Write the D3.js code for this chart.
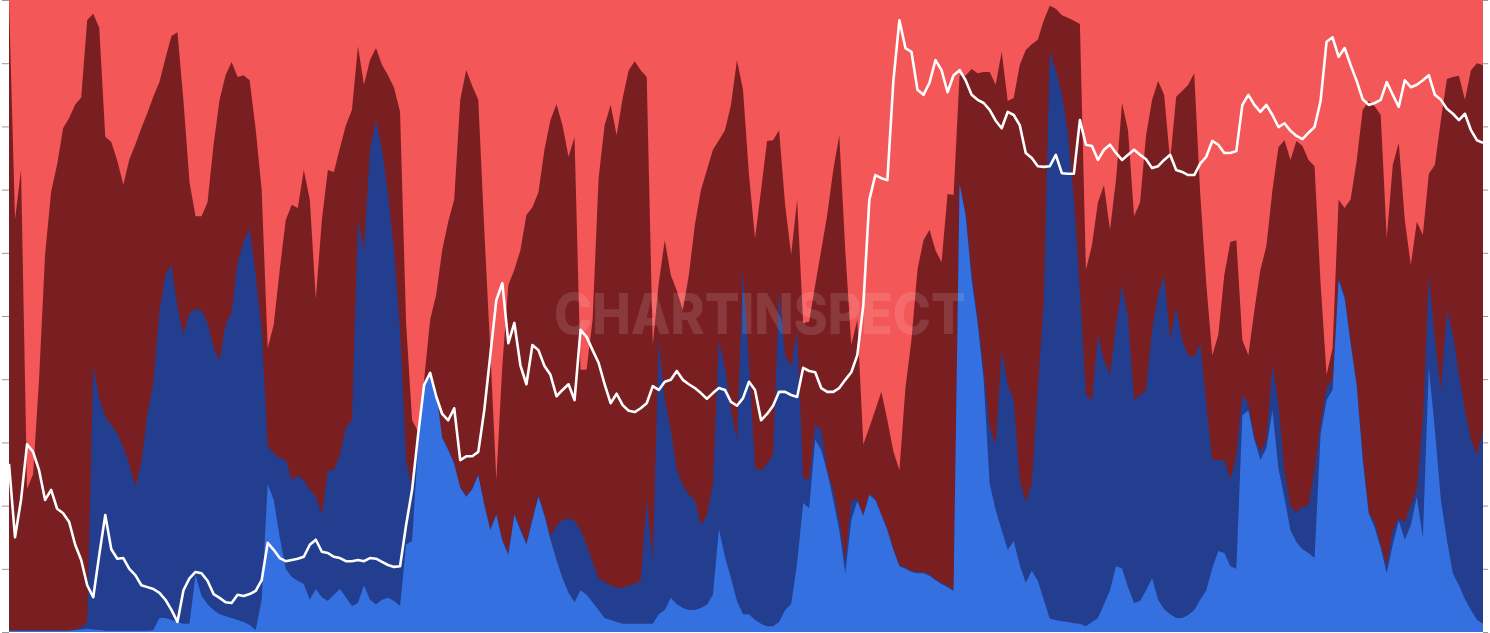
<!DOCTYPE html>
<html><head><meta charset="utf-8">
<script src="https://cdn.jsdelivr.net/npm/d3@7"></script>
<style>html,body{margin:0;padding:0;background:#fff;overflow:hidden}svg{display:block}</style>
</head><body><svg id="c" width="1490" height="633"></svg>
<script>
// Share of each cohort (percent), sampled left to right
const lightBlue = [0.2,0.2,0.2,0.2,0.2,0.2,0.2,0.2,0.2,0.2,
0.2,0.3,0.4,0.5,0.4,0.3,0.2,0.2,0.2,0.2,
0.2,0.2,0.2,0.2,0.3,2.2,2.2,1.9,1.6,1.3,
1.3,9.0,5.7,4.4,3.5,2.8,2.5,2.2,1.9,1.6,
1.1,0.3,5.1,23.4,20.9,15.0,10.0,8.7,8.1,7.6,
5.1,6.8,5.5,4.9,5.9,6.8,5.5,4.1,4.6,7.4,
5.1,4.4,5.1,5.4,4.9,4.1,13.8,14.4,29.6,38.9,
40.5,38.0,30.7,28.8,26.6,22.8,21.4,22.6,24.8,20.1,
16.1,18.5,14.4,12.2,18.5,16.1,13.8,17.7,21.4,18.4,
14.6,11.4,8.5,6.2,4.7,6.6,5.9,4.7,3.5,2.2,
1.9,1.6,1.3,1.3,1.3,1.3,1.3,1.3,2.8,3.5,
5.4,4.4,3.8,3.5,3.5,3.8,4.3,5.9,16.3,11.9,
8.5,4.9,2.8,2.8,1.9,1.3,0.9,0.9,1.6,3.5,
4.4,10.9,20.4,19.6,30.4,28.8,25.3,20.9,16.1,9.3,
17.7,20.7,18.4,21.7,20.9,18.5,16.1,13.0,10.4,10.0,
9.5,9.3,9.3,8.9,8.2,7.6,7.1,6.5,70.9,66.0,
55.7,48.9,39.9,23.4,19.3,16.1,13.0,14.4,10.6,7.8,
9.7,8.1,5.1,2.1,1.9,1.7,1.6,1.4,1.3,0.9,
1.6,2.2,4.4,6.6,10.4,10.1,7.1,4.6,4.9,6.6,
8.5,5.1,3.6,2.8,2.2,2.2,2.7,3.5,5.1,6.6,
10.1,12.8,12.5,10.4,10.0,34.3,35.1,30.4,27.2,29.1,
35.1,25.9,21.2,16.1,14.2,13.1,12.5,11.7,31.2,36.7,
38.3,55.7,52.8,45.7,39.1,27.2,18.8,16.5,13.3,9.3,
13.8,17.6,14.6,16.9,21.4,14.9,41.9,32.0,20.9,14.6,
9.2,7.4,5.2,3.5,1.9,1.3];

const darkBlue = [0,0,0,0,0,0,0,0,0,0,
0,0,0.3,1.1,41.9,36.7,33.9,32.6,31.3,29.1,
26.3,22.8,26.6,34.3,39.2,48.4,54.3,56.2,49.8,45.7,
49.2,42.1,45.2,44.5,41.6,40.1,46.1,48.4,56.6,60.1,
62.8,56.2,42.7,6.0,7.4,12.5,17.2,15.4,16.6,16.5,
17.4,14.7,13.0,20.7,19.7,21.2,26.8,29.4,60.6,53.0,
71.2,76.5,71.2,63.9,55.5,43.7,13.4,8.1,0.2,0.2,
0.2,0.2,0.2,0.2,0.2,0.2,0.2,0.2,0.2,0.2,
0.2,0.3,0.3,0.3,0.3,0.4,0.3,0.3,0.3,0.3,
0.6,5.5,9.2,11.8,12.9,9.5,7.9,6.4,5.0,5.7,
5.5,5.4,5.7,6.0,6.3,6.9,19.6,10.1,43.4,33.2,
26.6,21.2,19.5,18.2,17.4,13.1,14.2,17.4,29.9,29.9,
26.6,25.5,54.5,39.8,24.0,24.3,25.7,27.1,52.4,40.3,
37.5,36.9,4.0,4.5,2.4,3.2,0.3,1.6,1.6,2.1,
3.2,0.3,0.2,0.2,0.2,0.2,0.2,0.2,0.2,0.2,
0.2,0.2,0.2,0.2,0.2,0.2,0.2,0.2,0.2,0.2,
1.3,0.8,1.6,8.9,10.4,28.5,26.2,22.3,13.5,12.9,
13.7,30.2,47.4,89.7,87.0,83.3,77.4,67.0,52.8,36.6,
35.1,44.8,38.6,34.1,37.9,44.8,42.6,32.1,32.6,31.7,
39.3,48.2,52.7,43.4,49.1,44.0,41.0,40.0,40.6,29.5,
17.1,14.4,14.7,13.7,18.0,3.2,1.0,0.5,1.3,1.3,
7.1,10.2,4.4,3.7,4.8,6.7,7.6,13.9,1.7,1.9,
1.7,0.3,0.4,0.2,0.2,1.3,0.2,0.9,0.5,1.3,
2.3,0.4,2.8,3.2,1.1,18.6,14.6,14.2,17.4,36.3,
37.8,33.3,29.9,26.9,26.1,30.7];

const darkRed = [100,65.2,73.1,22.5,24.8,39.9,59.7,69.6,73.9,79.7,
81.3,83.4,84.2,95.7,55.9,58.9,44.4,44.9,43.2,41.6,
48.4,54.3,53.1,47.8,45.5,36.4,34.3,36.2,43.5,37.0,
20.7,14.7,14.9,19.1,32.0,41.3,39.5,39.6,29.3,26.4,
23.4,23.1,22.1,15.5,20.3,29.8,38.0,43.5,42.4,49.0,
45.9,31.2,46.7,47.5,47.2,48.6,47.9,49.1,27.5,26.2,
14.2,11.5,13.4,18.8,25.7,34.5,21.7,11.0,1.9,0.8,
8.7,15.2,29.5,35.9,41.7,61.3,67.4,63.6,59.2,43.3,
28.3,5.3,27.5,42.4,38.5,43.9,51.9,49.2,47.9,57.6,
65.8,66.6,62.5,57.2,60.7,25.4,27.7,38.3,63.3,72.3,
76.0,71.6,77.5,81.6,82.7,80.7,66.9,34.0,9.0,25.3,
24.5,28.4,27.6,34.8,43.5,53.0,54.6,53.0,31.6,37.6,
48.3,60.1,28.5,29.7,36.4,44.3,51.1,49.8,25.4,23.8,
17.8,20.6,24.5,25.0,22.1,28.4,40.4,50.6,60.9,49.0,
24.5,28.4,11.1,10.5,14.1,19.3,17.2,15.4,15.0,28.5,
36.5,47.8,52.5,54.6,52.0,50.7,62.0,62.5,17.1,21.9,
32.1,38.7,47.1,56.3,56.9,47.2,44.8,47.8,65.6,71.4,
69.6,55.4,44.3,7.3,9.7,12.6,18.2,28.3,42.1,19.8,
24.5,21.0,27.7,22.9,23.2,28.8,29.7,29.1,30.5,40.3,
36.4,33.9,28.7,28.3,33.4,39.4,42.9,44.9,23.6,19.1,
16.6,19.8,29.3,37.6,34.0,8.7,7.7,20.0,28.8,30.7,
27.7,40.6,52.2,54.9,58.7,57.1,54.6,48.1,22.3,2.1,
4.9,12.4,13.9,22.7,35.4,54.1,65.0,65.8,68.0,51.7,
57.8,59.4,47.8,38.0,42.4,29.3,16.0,27.7,42.7,36.6,
40.8,47.3,49.1,58.5,62.0,57.7];

const lightRed = [0,34.8,26.9,77.5,75.2,60.1,40.3,30.4,26.1,20.3,
18.7,16.6,15.5,3.2,2.2,4.4,21.7,22.5,25.5,29.3,
25.3,22.9,20.3,17.9,15.3,13.0,9.2,5.7,5.1,16.0,
28.8,34.2,34.2,32.0,22.9,15.8,11.9,9.8,12.2,11.9,
12.7,20.4,30.1,55.1,51.4,42.7,34.8,32.4,32.9,26.9,
31.6,47.3,34.8,26.9,27.2,23.4,19.8,17.4,7.3,13.4,
9.5,7.6,10.3,11.9,13.9,17.7,51.1,66.5,68.4,60.1,
50.6,46.7,39.6,35.1,31.6,15.8,11.1,13.6,15.8,36.4,
55.4,75.9,57.8,45.1,42.7,39.6,34.0,32.8,30.4,23.7,
19.0,16.5,19.8,24.8,21.7,58.5,58.5,50.6,28.2,19.8,
16.6,21.4,15.5,11.1,9.7,11.1,12.2,54.6,44.8,38.0,
43.5,46.0,49.1,43.5,35.6,30.1,26.9,23.7,22.2,20.6,
16.6,9.5,14.2,27.7,37.7,30.1,22.3,22.2,20.6,32.4,
40.3,31.6,51.1,50.9,45.1,39.6,34.0,26.9,21.4,39.6,
54.6,50.6,70.4,67.7,64.9,62.0,66.5,71.5,74.4,61.4,
53.8,42.7,38.0,36.4,39.6,41.5,30.7,30.9,11.9,12.0,
10.9,11.6,11.4,11.4,13.4,8.2,16.0,15.5,10.3,7.9,
7.0,6.3,3.2,0.9,1.4,2.4,2.8,3.3,3.8,42.7,
38.8,32.0,29.3,36.4,28.5,16.3,20.6,34.2,32.0,21.4,
15.8,12.8,15.0,25.5,15.3,14.4,13.4,11.6,30.7,44.8,
56.2,53.0,43.5,38.3,38.0,53.8,56.2,49.1,42.7,38.9,
30.1,23.3,22.2,25.3,22.3,23.1,25.3,26.3,44.8,59.3,
55.1,31.6,32.9,31.6,25.5,17.4,16.0,16.8,18.2,37.7,
26.1,22.6,34.8,41.9,35.1,37.2,27.5,26.1,19.0,12.5,
12.2,12.0,15.8,11.1,10.0,10.3];

// Price index (white line), same sampling
const priceLine = [26.6,15.0,20.9,29.7,28.5,25.6,20.9,22.5,19.5,18.8,
17.4,13.8,11.4,7.4,5.5,12.2,18.5,13.1,11.6,11.7,
10.0,9.0,7.4,7.1,6.8,6.2,5.1,3.5,1.6,6.6,
8.5,9.5,9.3,8.1,6.0,5.4,4.7,4.6,5.9,5.7,
6.0,6.5,8.2,14.1,13.0,11.7,11.2,11.4,11.6,11.9,
13.8,14.6,12.7,12.5,11.9,11.7,11.2,11.2,11.4,11.2,
11.7,11.6,11.1,10.6,10.3,10.4,16.9,22.5,31.2,39.1,
41.0,37.3,34.5,33.5,35.4,27.2,27.8,27.8,28.5,35.1,
43.8,52.5,55.2,45.7,48.9,42.2,39.2,45.4,44.6,42.1,
40.7,37.3,38.3,39.2,36.7,47.8,46.7,44.6,42.6,39.2,
36.2,37.7,35.9,35.0,34.8,35.4,36.2,38.9,38.3,39.6,
39.9,41.3,39.9,39.2,38.6,37.8,36.9,37.8,38.6,38.3,
36.4,35.8,37.0,39.6,38.3,33.5,34.5,35.8,38.0,38.0,
37.5,37.2,41.8,41.3,41.1,38.6,38.0,38.0,38.6,39.9,
41.1,43.8,51.7,68.4,72.3,71.8,71.5,87.3,96.8,92.4,
91.8,85.8,85.0,86.9,90.5,88.9,85.4,88.1,88.9,87.3,
85.0,84.2,83.7,82.6,80.9,79.7,82.3,81.8,80.2,75.8,
75.0,73.7,73.6,73.7,75.5,72.6,72.5,72.5,81.0,77.1,
76.9,74.7,76.3,77.1,75.8,74.7,75.5,76.3,75.5,74.8,
73.4,73.7,74.7,75.5,73.1,72.8,72.3,72.3,74.1,75.2,
77.7,77.1,75.8,75.8,76.1,83.4,85.0,83.4,82.3,83.4,
81.8,79.9,80.5,79.3,78.5,78.0,79.0,79.9,84.0,93.4,
94.1,91.0,92.4,89.7,87.2,84.3,83.4,83.7,84.2,87.0,
85.0,83.1,87.3,86.2,86.6,87.3,88.1,85.0,84.2,82.8,
82.0,81.0,82.0,79.4,77.8,77.4];

const yTicks = [0,10,20,30,40,50,60,70,80,90,100];
const seriesKeys = ["lightBlue","darkBlue","darkRed","lightRed"];
const seriesColors = {lightBlue:"#3470e0", darkBlue:"#233e8e", darkRed:"#7a1f21", lightRed:"#f45757"};

const W = 1490, H = 633;
const m = {l: 9, r: 7, t: 0, b: 1};
const n = lightBlue.length;
const rows = d3.range(n).map(i => ({i, lightBlue: lightBlue[i], darkBlue: darkBlue[i], darkRed: darkRed[i], lightRed: lightRed[i]}));

const x = d3.scaleLinear().domain([0, n - 1]).range([m.l, W - m.r]);
const y = d3.scaleLinear().domain([0, 1]).range([H - m.b, m.t]);
const yPct = d3.scaleLinear().domain([0, 100]).range([H - m.b, m.t]);

const stacked = d3.stack().keys(seriesKeys).offset(d3.stackOffsetExpand)(rows);

const svg = d3.select("#c");
const g = svg.append("g");

// draw from top layer to bottom, each filled from baseline to its upper edge (no seams)
const area = d3.area().x(d => x(d.data.i)).y0(y(0)).y1(d => y(d[1])).curve(d3.curveLinear);
stacked.slice().reverse().forEach(s => {
  g.append("path").datum(s).attr("d", area).attr("fill", seriesColors[s.key]);
});

// watermark
g.append("text").attr("x", 760).attr("y", 334).attr("text-anchor", "middle")
  .attr("font-family", "Inter, 'Open Sans', sans-serif").attr("font-weight", 800)
  .attr("font-size", 56).attr("fill", "#ffffff").attr("fill-opacity", 0.12)
  .attr("textLength", 412).attr("lengthAdjust", "spacingAndGlyphs")
  .text("CHARTINSPECT");

// price line
const line = d3.line().x((d, i) => x(i)).y(d => yPct(d)).curve(d3.curveLinear);
g.append("path").datum(priceLine).attr("d", line).attr("fill", "none")
  .attr("stroke", "#ffffff").attr("stroke-width", 2.6).attr("stroke-linejoin", "round");

// axes
const left = d3.axisLeft(yPct).tickValues(yTicks).tickSize(7).tickFormat("");
const right = d3.axisRight(yPct).tickValues(yTicks).tickSize(5).tickFormat("");
const la = svg.append("g").attr("transform", `translate(${m.l},0)`).call(left);
const ra = svg.append("g").attr("transform", `translate(${W - m.r},0)`).call(right);
[la, ra].forEach(a => { a.select(".domain").remove(); a.selectAll("line").attr("stroke", "#9a9a9a"); });
</script>
</body></html>
